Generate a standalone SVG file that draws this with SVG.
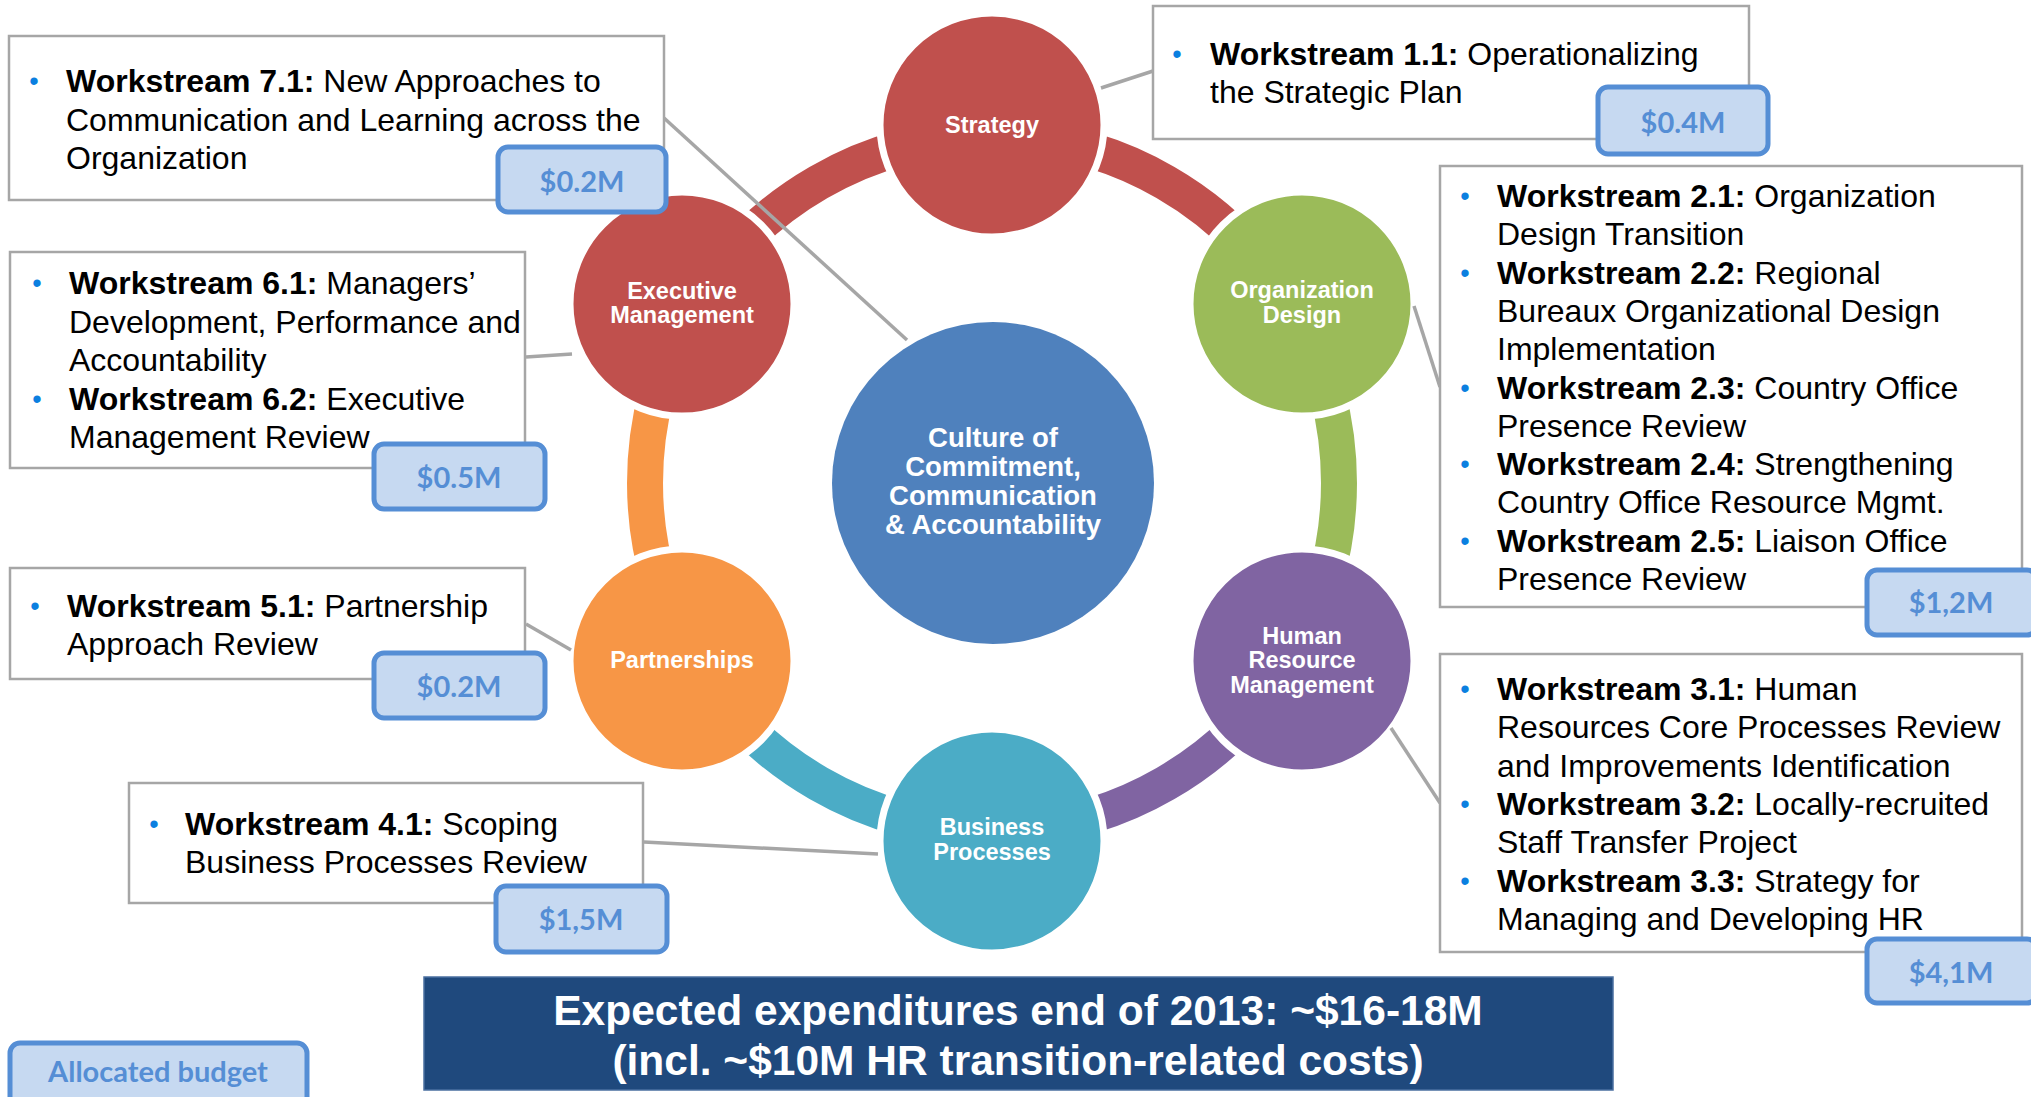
<svg xmlns="http://www.w3.org/2000/svg" width="2031" height="1097" viewBox="0 0 2031 1097">
<style>
.box{fill:#fff;stroke:#A6A6A6;stroke-width:2.5}
.tag{fill:#C6D9F1;stroke:#558ED5;stroke-width:5}
.tagt{font-family:Lato,'Liberation Sans',sans-serif;font-weight:bold;font-size:29px;fill:#558ED5;text-anchor:middle}
.t{font-family:'Liberation Sans',Arial,sans-serif;font-size:32px;fill:#000}
.b{font-weight:bold}
.bul{font-family:'Liberation Sans',Arial,sans-serif;font-size:27px;fill:#0B7FE0;text-anchor:middle}
.node{stroke:#fff;stroke-width:7}
.nt{font-family:'Liberation Sans',Arial,sans-serif;font-weight:bold;font-size:23.5px;fill:#fff;text-anchor:middle}
.ct{font-family:'Liberation Sans',Arial,sans-serif;font-weight:bold;font-size:27.5px;fill:#fff;text-anchor:middle}
.arc{fill:none;stroke-width:36}
.con{stroke:#A6A6A6;stroke-width:3.5;fill:none}
.bt{font-family:'Liberation Sans',Arial,sans-serif;font-weight:bold;font-size:42.5px;fill:#fff;text-anchor:middle}
</style>
<rect x="0" y="0" width="2031" height="1097" fill="#fff"/>
<g id="ring">
<path class="arc" stroke="#C0504D" d="M992 136 A347 347 0 0 1 1292.5 309.5"/>
<path class="arc" stroke="#9BBB59" d="M1292.5 309.5 A347 347 0 0 1 1292.5 656.5"/>
<path class="arc" stroke="#8064A2" d="M1292.5 656.5 A347 347 0 0 1 992 830"/>
<path class="arc" stroke="#4BACC6" d="M992 830 A347 347 0 0 1 691.5 656.5"/>
<path class="arc" stroke="#F79646" d="M691.5 656.5 A347 347 0 0 1 691.5 309.5"/>
<path class="arc" stroke="#C0504D" d="M691.5 309.5 A347 347 0 0 1 992 136"/>
</g>
<g id="node-center">
<circle cx="993" cy="483" r="161" fill="#4F81BD"/>
<text class="ct" x="993" y="447">Culture of</text>
<text class="ct" x="993" y="476">Commitment,</text>
<text class="ct" x="993" y="505">Communication</text>
<text class="ct" x="993" y="534">&amp; Accountability</text>
</g>
<g id="node-strategy">
<circle class="node" cx="992" cy="125" r="112" fill="#C0504D"/>
<text class="nt" x="992" y="133">Strategy</text>
</g>
<g id="node-orgdesign">
<circle class="node" cx="1302" cy="304" r="112" fill="#9BBB59"/>
<text class="nt" x="1302" y="298">Organization</text>
<text class="nt" x="1302" y="323">Design</text>
</g>
<g id="node-hr">
<circle class="node" cx="1302" cy="661" r="112" fill="#8064A2"/>
<text class="nt" x="1302" y="644">Human</text>
<text class="nt" x="1302" y="668">Resource</text>
<text class="nt" x="1302" y="693">Management</text>
</g>
<g id="node-bp">
<circle class="node" cx="992" cy="841" r="112" fill="#4BACC6"/>
<text class="nt" x="992" y="835">Business</text>
<text class="nt" x="992" y="860">Processes</text>
</g>
<g id="node-partnerships">
<circle class="node" cx="682" cy="661" r="112" fill="#F79646"/>
<text class="nt" x="682" y="668">Partnerships</text>
</g>
<g id="node-exec">
<circle class="node" cx="682" cy="304" r="112" fill="#C0504D"/>
<text class="nt" x="682" y="299">Executive</text>
<text class="nt" x="682" y="323">Management</text>
</g>
<g id="connectors">
<line class="con" x1="1101" y1="88" x2="1153" y2="71"/>
<line class="con" x1="664" y1="118" x2="907" y2="340"/>
<line class="con" x1="1414" y1="306" x2="1440" y2="387"/>
<line class="con" x1="1391" y1="728" x2="1440" y2="803"/>
<line class="con" x1="526" y1="357" x2="572" y2="354"/>
<line class="con" x1="526" y1="624" x2="571" y2="650"/>
<line class="con" x1="644" y1="842" x2="878" y2="854"/>
</g>
<g id="box-7">
<rect class="box" x="9" y="36" width="655" height="164"/>
<text class="bul" x="34" y="90">•</text>
<text class="t" x="66" y="92"><tspan class="b">Workstream 7.1:</tspan> New Approaches to</text>
<text class="t" x="66" y="130.5">Communication and Learning across the</text>
<text class="t" x="66" y="169">Organization</text>
<rect class="tag" x="498" y="147" width="168" height="65" rx="10"/>
<text class="tagt" x="582" y="192">$0.2M</text>
</g>
<g id="box-1">
<rect class="box" x="1153" y="6" width="596" height="133"/>
<text class="bul" x="1177" y="63">•</text>
<text class="t" x="1210" y="65"><tspan class="b">Workstream 1.1:</tspan> Operationalizing</text>
<text class="t" x="1210" y="103">the Strategic Plan</text>
<rect class="tag" x="1598" y="87" width="170" height="67" rx="10"/>
<text class="tagt" x="1683" y="133">$0.4M</text>
</g>
<g id="box-2">
<rect class="box" x="1440" y="166" width="582" height="441"/>
<text class="bul" x="1465" y="205">•</text>
<text class="t" x="1497" y="207"><tspan class="b">Workstream 2.1:</tspan> Organization</text>
<text class="t" x="1497" y="245.3">Design Transition</text>
<text class="bul" x="1465" y="281.6">•</text>
<text class="t" x="1497" y="283.6"><tspan class="b">Workstream 2.2:</tspan> Regional</text>
<text class="t" x="1497" y="321.9">Bureaux Organizational Design</text>
<text class="t" x="1497" y="360.2">Implementation</text>
<text class="bul" x="1465" y="396.5">•</text>
<text class="t" x="1497" y="398.5"><tspan class="b">Workstream 2.3:</tspan> Country Office</text>
<text class="t" x="1497" y="436.8">Presence Review</text>
<text class="bul" x="1465" y="473.1">•</text>
<text class="t" x="1497" y="475.1"><tspan class="b">Workstream 2.4:</tspan> Strengthening</text>
<text class="t" x="1497" y="513.4">Country Office Resource Mgmt.</text>
<text class="bul" x="1465" y="549.7">•</text>
<text class="t" x="1497" y="551.7"><tspan class="b">Workstream 2.5:</tspan> Liaison Office</text>
<text class="t" x="1497" y="590">Presence Review</text>
<rect class="tag" x="1867" y="570" width="170" height="65" rx="10"/>
<text class="tagt" x="1951" y="613">$1,2M</text>
</g>
<g id="box-3">
<rect class="box" x="1440" y="654" width="582" height="298"/>
<text class="bul" x="1465" y="698">•</text>
<text class="t" x="1497" y="700"><tspan class="b">Workstream 3.1:</tspan> Human</text>
<text class="t" x="1497" y="738.3">Resources Core Processes Review</text>
<text class="t" x="1497" y="776.6">and Improvements Identification</text>
<text class="bul" x="1465" y="812.9">•</text>
<text class="t" x="1497" y="814.9"><tspan class="b">Workstream 3.2:</tspan> Locally-recruited</text>
<text class="t" x="1497" y="853.2">Staff Transfer Project</text>
<text class="bul" x="1465" y="889.5">•</text>
<text class="t" x="1497" y="891.5"><tspan class="b">Workstream 3.3:</tspan> Strategy for</text>
<text class="t" x="1497" y="929.8">Managing and Developing HR</text>
<rect class="tag" x="1867" y="939" width="170" height="64" rx="10"/>
<text class="tagt" x="1951" y="983">$4,1M</text>
</g>
<g id="box-6">
<rect class="box" x="10" y="252" width="515" height="216"/>
<text class="bul" x="37" y="292">•</text>
<text class="t" x="69" y="294"><tspan class="b">Workstream 6.1:</tspan> Managers’</text>
<text class="t" x="69" y="332.5">Development, Performance and</text>
<text class="t" x="69" y="371">Accountability</text>
<text class="bul" x="37" y="407.5">•</text>
<text class="t" x="69" y="409.5"><tspan class="b">Workstream 6.2:</tspan> Executive</text>
<text class="t" x="69" y="448">Management Review</text>
<rect class="tag" x="374" y="444" width="171" height="65" rx="10"/>
<text class="tagt" x="459" y="488">$0.5M</text>
</g>
<g id="box-5">
<rect class="box" x="10" y="568" width="515" height="111"/>
<text class="bul" x="35" y="615">•</text>
<text class="t" x="67" y="617"><tspan class="b">Workstream 5.1:</tspan> Partnership</text>
<text class="t" x="67" y="655">Approach Review</text>
<rect class="tag" x="374" y="653" width="171" height="65" rx="10"/>
<text class="tagt" x="459" y="697">$0.2M</text>
</g>
<g id="box-4">
<rect class="box" x="129" y="783" width="514" height="120"/>
<text class="bul" x="154" y="833">•</text>
<text class="t" x="185" y="835"><tspan class="b">Workstream 4.1:</tspan> Scoping</text>
<text class="t" x="185" y="873">Business Processes Review</text>
<rect class="tag" x="496" y="886" width="171" height="66" rx="10"/>
<text class="tagt" x="581" y="930">$1,5M</text>
</g>
<g id="banner">
<rect x="424" y="977" width="1189" height="113" fill="#1F497D" stroke="#4A6FA0" stroke-width="1.5"/>
<text class="bt" x="1018" y="1025">Expected expenditures end of 2013: ~$16-18M</text>
<text class="bt" x="1018" y="1075">(incl. ~$10M HR transition-related costs)</text>
</g>
<g id="legend">
<rect class="tag" x="10" y="1043" width="297" height="70" rx="10"/>
<text class="tagt" x="158" y="1082">Allocated budget</text>
</g>
</svg>
